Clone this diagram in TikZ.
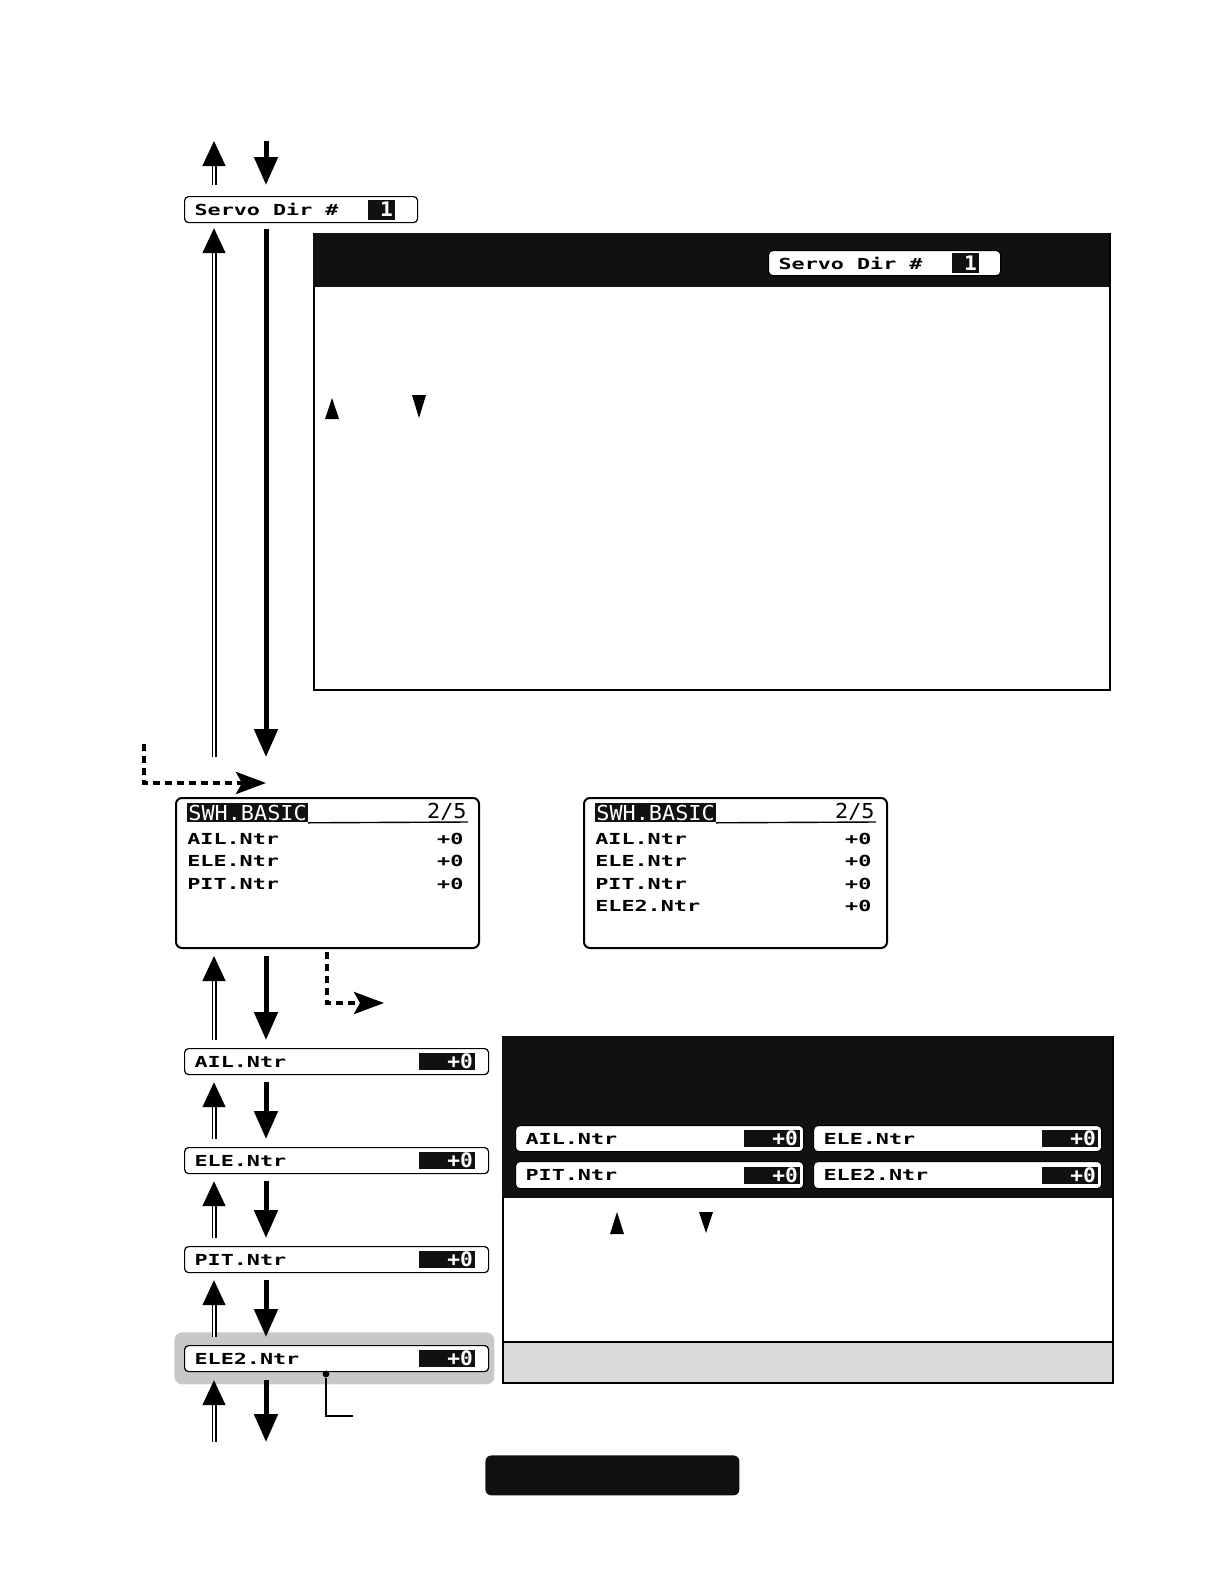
\documentclass[tikz,border=0pt]{standalone}
\usepackage{fontspec}
\usetikzlibrary{arrows.meta,positioning}
\newfontfamily\lcdfam[FakeStretch=1.43]{DejaVu Sans Mono}
\newfontfamily\lcdheadfam[FakeStretch=1.06]{DejaVu Sans Mono}
\newcommand\lcd{\lcdfam\bfseries\fontsize{7.6}{11.2}\selectfont}
\newcommand\lcdhead{\lcdheadfam\fontsize{10.3}{11}\selectfont}
\newcommand\lcdval{\lcdheadfam\bfseries\fontsize{10}{11}\selectfont}
\newcommand\lcdsp{\hspace{6.54pt}}
\definecolor{lcdblack}{HTML}{111111}
\definecolor{hlgray}{HTML}{C8C8C8}
\definecolor{footgray}{HTML}{D9D9D9}
\tikzset{
  parbox/.style={draw, line width=0.6pt, rounded corners=2pt, fill=white, anchor=north west,
    inner xsep=5pt, inner ysep=0pt, minimum height=13pt, align=left, font=\lcd},
  valbox/.style={fill=lcdblack, text=white, font=\lcdval, align=right, text width=26pt,
    inner xsep=1pt, inner ysep=0pt, minimum height=8.5pt},
  numbox/.style={fill=lcdblack, text=white, font=\lcdval, align=right, text width=11.5pt,
    inner xsep=1pt, inner ysep=0pt, minimum height=10pt},
  panel/.style={draw, line width=0.8pt, fill=white, anchor=north west, inner sep=0pt},
  panelhead/.style={fill=lcdblack, anchor=north west, inner sep=0pt},
  screen/.style={draw, line width=1pt, rounded corners=3pt, anchor=north west,
    minimum width=151.5pt, minimum height=75pt, inner sep=0pt},
  headbox/.style={fill=lcdblack, text=white, font=\lcdhead, anchor=north west,
    inner sep=0.5pt, minimum height=9.5pt},
  pagetxt/.style={font=\lcdhead, anchor=south east, inner sep=0.5pt},
  rows/.style={font=\lcd, anchor=base west, inner sep=0pt},
  uparrow/.style={double, double distance=1.2pt, line width=0.65pt,
    -{Triangle[length=12.5pt,width=11.5pt]}},
  downarrow/.style={line width=2.5pt, -{Triangle[length=14pt,width=11.5pt]}},
  dotarrow/.style={line width=2pt, dash pattern=on 3.5pt off 2.5pt,
    -{Stealth[length=15pt,width=11pt,inset=3pt]}},
}
\begin{document}
\begin{tikzpicture}[x=0.5pt,y=-0.5pt]
    \useasboundingbox (0,0) rectangle (1224,1584);
    \coordinate (upx) at (214,0);
    \coordinate (dnx) at (266,0);

    % servo direction line
    \node[parbox, text width=106.5pt] (servo) at (184,196) {Servo\lcdsp Dir\lcdsp\#};
    \node[numbox, left=11.5pt of servo.east] (servonum) {1};
    \coordinate (topup) at (214,141);
    \coordinate (topdn) at (266,141);
    \draw [uparrow, shorten <=5.5pt] (servo.north -| upx) -- (topup);
    \draw [downarrow, shorten >=5.5pt] (topdn) -- (servo.north -| dnx);

    % info panel
    \node[panel, minimum width=398pt, minimum height=228pt] (info) at (313,233) {};
    \node[panelhead, minimum width=398pt, minimum height=27pt] (infohead) at (info.north west) {};
    \node[parbox, text width=106pt, minimum height=12.5pt] (infoservo) at (768,250) {Servo\lcdsp Dir\lcdsp\#};
    \node[numbox, left=11pt of infoservo.east] (infonum) {1};
    \fill (325,419) -- (332,398) -- (339,419) -- cycle;
    \fill (412,395) -- (426,395) -- (419,418) -- cycle;

    % function screens
    \node[screen] (scrA) at (175,797) {};
    \node[headbox] (hdA) at (187,803) {SWH.BASIC};
    \node[pagetxt] (pgA) at (468,822) {2/5};
    \draw [line width=0.7pt] (hdA.south east) -- (pgA.south east);
    \node[rows] (rowsA) at (187,844.5) {\begin{tabular*}{138pt}[t]{@{}l@{\extracolsep{\fill}}r@{}}
        AIL.Ntr & +0\\ ELE.Ntr & +0\\ PIT.Ntr & +0\end{tabular*}};

    \node[screen] (scrB) at (583,797) {};
    \node[headbox] (hdB) at (595,803) {SWH.BASIC};
    \node[pagetxt] (pgB) at (876,822) {2/5};
    \draw [line width=0.7pt] (hdB.south east) -- (pgB.south east);
    \node[rows] (rowsB) at (595,844.5) {\begin{tabular*}{138pt}[t]{@{}l@{\extracolsep{\fill}}r@{}}
        AIL.Ntr & +0\\ ELE.Ntr & +0\\ PIT.Ntr & +0\\ ELE2.Ntr & +0\end{tabular*}};

    \draw [uparrow, shorten <=20pt, shorten >=2.5pt] (scrA.north -| upx) -- (servo.south -| upx);
    \draw [downarrow, shorten <=3pt, shorten >=20pt] (servo.south -| dnx) -- (scrA.north -| dnx);
    \coordinate (dotA) at (144,744);
    \coordinate (dotAend) at (266,783);
    \draw [dotarrow] (dotA) |- (dotAend);
    \coordinate (dotB) at (327,952);
    \coordinate (dotBend) at (384,1003);
    \draw [dotarrow] (dotB) |- (dotBend);

    % neutral settings
    \node[fill=hlgray, rounded corners=4pt, anchor=north west, inner sep=0pt,
        minimum width=160pt, minimum height=26pt] (hl) at (174,1332) {};
    \node[parbox, text width=142pt] (ail) at (184,1048) {AIL.Ntr};
    \node[valbox, left=7pt of ail.east] (ailval) {+0};
    \node[parbox, text width=142pt] (ele) at (184,1147) {ELE.Ntr};
    \node[valbox, left=7pt of ele.east] (eleval) {+0};
    \node[parbox, text width=142pt] (pit) at (184,1246) {PIT.Ntr};
    \node[valbox, left=7pt of pit.east] (pitval) {+0};
    \node[parbox, text width=142pt] (eletwo) at (184,1345) {ELE2.Ntr};
    \node[valbox, left=7pt of eletwo.east] (eletwoval) {+0};

    \draw [uparrow, shorten <=4pt, shorten >=3.5pt] (ail.north -| upx) -- (scrA.south -| upx);
    \draw [downarrow, shorten <=3.5pt, shorten >=4pt] (scrA.south -| dnx) -- (ail.north -| dnx);
    \draw [uparrow, shorten <=4pt, shorten >=3.5pt] (ele.north -| upx) -- (ail.south -| upx);
    \draw [downarrow, shorten <=3.5pt, shorten >=4pt] (ail.south -| dnx) -- (ele.north -| dnx);
    \draw [uparrow, shorten <=4pt, shorten >=3.5pt] (pit.north -| upx) -- (ele.south -| upx);
    \draw [downarrow, shorten <=3.5pt, shorten >=4pt] (ele.south -| dnx) -- (pit.north -| dnx);
    \draw [uparrow, shorten <=4pt, shorten >=3.5pt] (eletwo.north -| upx) -- (pit.south -| upx);
    \draw [downarrow, shorten <=3.5pt, shorten >=4pt] (pit.south -| dnx) -- (eletwo.north -| dnx);
    \coordinate (botup) at (214,1442);
    \coordinate (botdn) at (266,1442);
    \draw [uparrow, shorten >=4pt] (botup) -- (eletwo.south -| upx);
    \draw [downarrow, shorten <=4pt] (eletwo.south -| dnx) -- (botdn);

    \node[circle, fill, inner sep=1.2pt] (tag) at (326,1374) {};
    \coordinate (tagend) at (353,1416);
    \draw [line width=0.6pt] (tag) |- (tagend);

    % neutral panel
    \node[panel, minimum width=305pt, minimum height=173pt] (ntrpanel) at (502,1036) {};
    \node[panelhead, minimum width=305pt, minimum height=81pt] (ntrhead) at (ntrpanel.north west) {};
    \node[draw, line width=0.8pt, fill=footgray, anchor=south west, inner sep=0pt,
        minimum width=305pt, minimum height=20.5pt] (ntrfoot) at (ntrpanel.south west) {};
    \node[parbox, text width=134pt] (ntrail) at (515,1125) {AIL.Ntr};
    \node[valbox, left=2pt of ntrail.east] (ntrailval) {+0};
    \node[parbox, text width=134pt] (ntrele) at (813,1125) {ELE.Ntr};
    \node[valbox, left=2pt of ntrele.east] (ntreleval) {+0};
    \node[parbox, text width=134pt, minimum height=13.5pt] (ntrpit) at (515,1161) {PIT.Ntr};
    \node[valbox, left=2pt of ntrpit.east] (ntrpitval) {+0};
    \node[parbox, text width=134pt, minimum height=13.5pt] (ntreletwo) at (813,1161) {ELE2.Ntr};
    \node[valbox, left=2pt of ntreletwo.east] (ntreletwoval) {+0};
    \fill (610,1234) -- (617,1212) -- (624,1234) -- cycle;
    \fill (699,1212) -- (713,1212) -- (706,1233) -- cycle;

    % page tab
    \node[fill=lcdblack, rounded corners=3pt, anchor=north west, inner sep=0pt,
        minimum width=127pt, minimum height=20pt] (tab) at (485,1455) {};
\end{tikzpicture}
\end{document}
